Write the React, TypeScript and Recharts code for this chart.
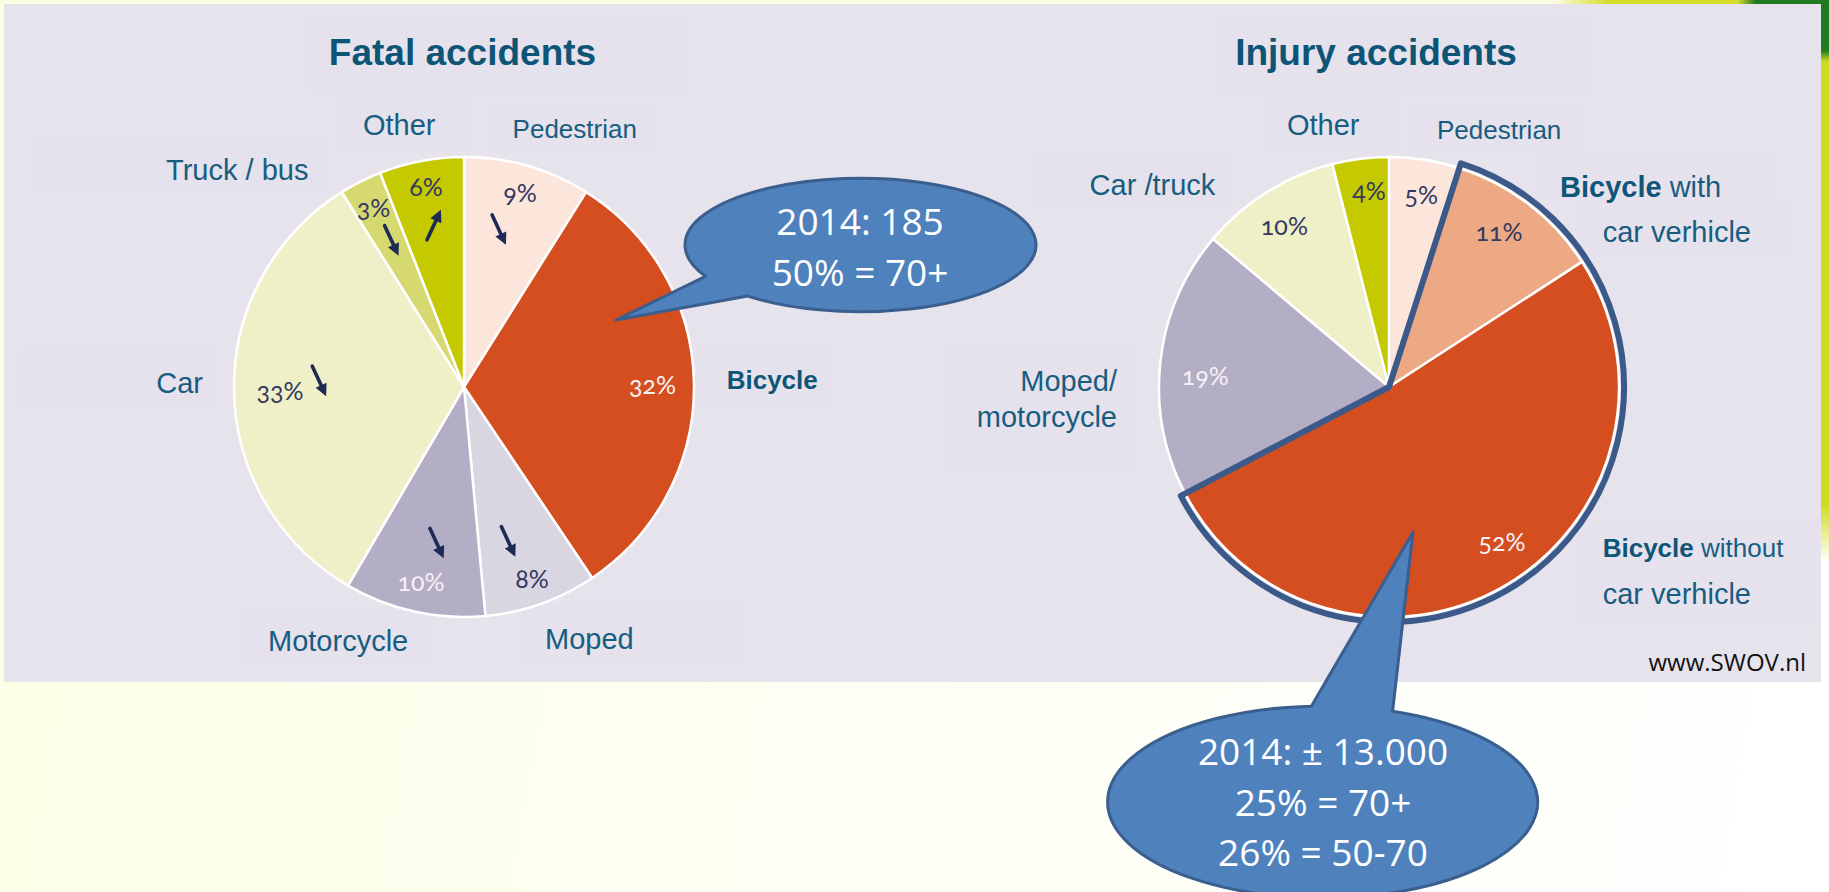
import React from 'react';
import { PieChart, Pie, Cell } from 'recharts';

// ---- data ----
const fatalCategories = ['Pedestrian', 'Bicycle', 'Moped', 'Motorcycle', 'Car', 'Truck / bus', 'Other'];
const fatalShares = [9, 32, 8, 10, 33, 3, 6];
const fatalTrend = ['down', '', 'down', 'down', 'down', 'down', 'up'];

const injuryCategories = [
  'Pedestrian',
  'Bicycle with\ncar verhicle',
  'Bicycle without\ncar verhicle',
  'Moped/\nmotorcycle',
  'Car /truck',
  'Other',
];
const injuryShares = [5, 11, 52, 19, 10, 4];
const injuryOutlined = [false, true, true, false, false, false];

const fatalCallout = ['2014: 185', '50% = 70+'];
const injuryCallout = ['2014: \u00b1 13.000', '25% = 70+', '26% = 50-70'];

// ---- styles ----
const fatalColors = ['#fce6dc', '#d54e20', '#d9d5e1', '#b4adc6', '#efefc8', '#d6d870', '#c4c900'];
const injuryColors = ['#fce6dc', '#eca984', '#d54e20', '#b4adc6', '#efefc8', '#c4c900'];
const fatalWhiteText = [false, true, false, true, false, false, false];
const injuryWhiteText = [false, false, true, true, false, false];

const LABEL = '#175d80';
const TITLE = '#0d5577';
const PCT_DARK = '#33395f';
const ARROW = '#1c2a55';
const SANS = '"Liberation Sans", Arial, sans-serif';

// percent label / arrow placement relative to slice mid angle
const fatalInner = [
  { r: 0.88, ar: 0.7, ashift: -3.5 },
  { r: 0.82, ar: 0, ashift: 0 },
  { r: 0.88, ar: 0.7, ashift: 3.6 },
  { r: 0.865, ar: 0.69, ashift: -2.6 },
  { r: 0.8, ar: 0.63, ashift: 3.2 },
  { r: 0.875, ar: 0.71, ashift: 0.4 },
  { r: 0.89, ar: 0.717, ashift: 0.2 },
];
const injuryInner = [
  { r: 0.85, shift: 0.6 },
  { r: 0.83, shift: -2.2 },
  { r: 0.83, shift: -6 },
  { r: 0.8, shift: -2.6 },
  { r: 0.84, shift: -0.7 },
  { r: 0.86, shift: 1.3 },
];

// category label placement, offsets from pie centre (baseline of each line)
const fatalOuter = [
  { anchor: 'start', lines: [{ dx: 48.6, dy: -249, size: 26 }] },
  { anchor: 'start', lines: [{ dx: 262.7, dy: 2, size: 26 }] },
  { anchor: 'start', lines: [{ dx: 81, dy: 262, size: 29 }] },
  { anchor: 'start', lines: [{ dx: -196, dy: 264, size: 29 }] },
  { anchor: 'end', lines: [{ dx: -261, dy: 6.4, size: 29 }] },
  { anchor: 'end', lines: [{ dx: -155.6, dy: -207, size: 29 }] },
  { anchor: 'start', lines: [{ dx: -101, dy: -252.5, size: 29 }] },
];
const injuryOuter = [
  { anchor: 'start', lines: [{ dx: 48, dy: -248, size: 26 }] },
  { anchor: 'start', lines: [{ dx: 171, dy: -190, size: 29 }, { dx: 213.7, dy: -145.4, size: 29 }] },
  { anchor: 'start', lines: [{ dx: 213.7, dy: 170, size: 26 }, { dx: 213.7, dy: 217, size: 29 }] },
  { anchor: 'end', lines: [{ dx: -272, dy: 4, size: 29 }, { dx: -272, dy: 40, size: 29 }] },
  { anchor: 'start', lines: [{ dx: -299.4, dy: -192.3, size: 29 }] },
  { anchor: 'start', lines: [{ dx: -102, dy: -251.6, size: 29 }] },
];

// faint text boxes behind the labels (as in the slide)
const labelBoxes = [
  [309, 18, 376, 74], [337, 94, 135, 56], [486, 104, 169, 46], [36, 136, 287, 58],
  [20, 348, 198, 60], [698, 348, 135, 56], [243, 611, 184, 52], [519, 605, 227, 60],
  [1216, 18, 376, 74], [1262, 94, 134, 57], [1412, 106, 169, 44], [1033, 152, 197, 58],
  [1535, 154, 241, 45], [1578, 199, 212, 58], [943, 348, 190, 121], [1578, 518, 241, 102],
];

const fatalData = fatalCategories.map((name, i) => ({ name, value: fatalShares[i] }));
const injuryData = injuryCategories.map((name, i) => ({ name, value: injuryShares[i] }));

// merge neighbouring slices with the same outline flag (for the bicycle outline)
const outlineData: { value: number; on: boolean }[] = [];
injuryShares.forEach((v, i) => {
  const last = outlineData[outlineData.length - 1];
  if (last && last.on === injuryOutlined[i]) last.value += v;
  else outlineData.push({ value: v, on: injuryOutlined[i] });
});

const polar = (cx: number, cy: number, r: number, thetaDeg: number) => {
  const t = (thetaDeg * Math.PI) / 180;
  return [cx + r * Math.sin(t), cy - r * Math.cos(t)];
};

const Arrow = ({ x, y, up }: { x: number; y: number; up: boolean }) => {
  const len = 33;
  const ux = 0.42;
  const uy = up ? -0.91 : 0.91;
  const sx = x - (ux * len) / 2;
  const sy = y - (uy * len) / 2;
  const ex = x + (ux * len) / 2;
  const ey = y + (uy * len) / 2;
  const hx = ex - ux * 12;
  const hy = ey - uy * 12;
  const px = -uy * 6;
  const py = ux * 6;
  return (
    <g>
      <line x1={sx} y1={sy} x2={hx + ux * 2} y2={hy + uy * 2} stroke={ARROW} strokeWidth={3.6} strokeLinecap="round" />
      <polygon points={`${ex},${ey} ${hx + px},${hy + py} ${hx - px},${hy - py}`} fill={ARROW} />
    </g>
  );
};

const CategoryText = ({ cx, cy, text, spec }: any) => {
  const lines = text.split('\n');
  return (
    <g>
      {lines.map((line: string, li: number) => {
        const pos = spec.lines[li];
        const bold = line.startsWith('Bicycle');
        const rest = bold ? line.slice('Bicycle'.length) : line;
        return (
          <text
            key={li}
            x={cx + pos.dx}
            y={cy + pos.dy}
            textAnchor={spec.anchor}
            fontFamily={SANS}
            fontSize={pos.size}
            fill={LABEL}
          >
            {bold && (
              <tspan fontWeight="bold" fill="#0f5577">
                Bicycle
              </tspan>
            )}
            {rest && <tspan>{rest.replace(/ /g, '\u00a0')}</tspan>}
          </text>
        );
      })}
    </g>
  );
};

const pctStyle = {
  fontFamily: 'Lato, "Open Sans", sans-serif',
  fontSize: 25,
  fontFeatureSettings: '"onum"',
  fontVariantNumeric: 'oldstyle-nums',
} as React.CSSProperties;

const renderFatalLabel = (props: any) => {
  const { cx, cy, midAngle, outerRadius, index } = props;
  const mid = 90 - midAngle;
  const inner = fatalInner[index];
  const [px, py] = polar(cx, cy, outerRadius * inner.r, mid);
  const trend = fatalTrend[index];
  let arrow = null;
  if (trend) {
    const [ax, ay] = polar(cx, cy, outerRadius * inner.ar, mid + inner.ashift);
    arrow = <Arrow x={ax} y={ay} up={trend === 'up'} />;
  }
  return (
    <g>
      <text
        x={px}
        y={py}
        textAnchor="middle"
        dominantBaseline="central"
        fill={fatalWhiteText[index] ? '#f6f2f6' : PCT_DARK}
        style={pctStyle}
      >
        {fatalShares[index]}%
      </text>
      {arrow}
      <CategoryText cx={cx} cy={cy} text={fatalCategories[index]} spec={fatalOuter[index]} />
    </g>
  );
};

const renderInjuryLabel = (props: any) => {
  const { cx, cy, midAngle, outerRadius, index } = props;
  const inner = injuryInner[index];
  const [px, py] = polar(cx, cy, outerRadius * inner.r, 90 - midAngle + inner.shift);
  return (
    <g>
      <text
        x={px}
        y={py}
        textAnchor="middle"
        dominantBaseline="central"
        fill={injuryWhiteText[index] ? '#f6f2f6' : PCT_DARK}
        style={pctStyle}
      >
        {injuryShares[index]}%
      </text>
      <CategoryText cx={cx} cy={cy} text={injuryCategories[index]} spec={injuryOuter[index]} />
    </g>
  );
};

// speech bubble: ellipse with a tail leaving between parametric angles a..b
const bubblePath = (cx: number, cy: number, rx: number, ry: number, a: number, b: number, tx: number, ty: number) => {
  const pt = (d: number) => [cx + rx * Math.cos((d * Math.PI) / 180), cy + ry * Math.sin((d * Math.PI) / 180)];
  const [ax, ay] = pt(a);
  const [bx, by] = pt(b);
  return `M${bx},${by} A${rx},${ry} 0 1 1 ${ax},${ay} L${tx},${ty} Z`;
};

const Bubble = ({ path, lines, x, y0, step }: any) => (
  <g>
    <path d={path} fill="#4f81bd" stroke="#3a5e8e" strokeWidth={3} strokeLinejoin="round" />
    {lines.map((l: string, i: number) => (
      <text
        key={i}
        x={x}
        y={y0 + i * step}
        textAnchor="middle"
        fontFamily='"Open Sans", sans-serif'
        fontSize={37}
        fill="#ffffff"
      >
        {l}
      </text>
    ))}
  </g>
);

const W = 1829;
const H = 892;

export default function App() {
  return (
    <div
      style={{
        position: 'absolute',
        left: 0,
        top: 0,
        width: W,
        height: H,
        overflow: 'hidden',
        background: 'linear-gradient(100deg, #fbffe4 0%, #fdfff2 45%, #ffffff 100%)',
      }}
    >
      {/* decorative strips */}
      <div style={{ position: 'absolute', left: 0, top: 0, width: W, height: 4, background: 'linear-gradient(90deg, #fbfde0 0%, #fbfde0 85%, #d4dc2c 88%, #d4dc2c 95%, #217a22 96%)' }} />
      <div style={{ position: 'absolute', left: 1821, top: 0, width: 8, height: 560, background: 'linear-gradient(180deg, #217a22 0%, #217a22 9%, #cfda22 11%, #cfda22 90%, #fefff4 100%)' }} />
      {/* panel */}
      <div style={{ position: 'absolute', left: 4, top: 4, width: 1817, height: 678, background: '#e6e3ec' }} />
      {labelBoxes.map(([x, y, w, h], i) => (
        <div key={i} style={{ position: 'absolute', left: x, top: y, width: w, height: h, background: '#e5e1ed' }} />
      ))}

      <div style={{ position: 'absolute', left: 0, top: 0 }}>
        <PieChart width={W} height={H}>
          <Pie
            data={fatalData}
            dataKey="value"
            cx={459}
            cy={382}
            outerRadius={230}
            startAngle={90}
            endAngle={-270}
            stroke="#ffffff"
            strokeWidth={2.5}
            labelLine={false}
            label={renderFatalLabel}
            isAnimationActive={false}
          >
            {fatalData.map((d, i) => (
              <Cell key={d.name} fill={fatalColors[i]} />
            ))}
          </Pie>
          <Pie
            data={injuryData}
            dataKey="value"
            cx={1384}
            cy={382}
            outerRadius={230}
            startAngle={90}
            endAngle={-270}
            stroke="#ffffff"
            strokeWidth={2.5}
            labelLine={false}
            label={renderInjuryLabel}
            isAnimationActive={false}
          >
            {injuryData.map((d, i) => (
              <Cell key={d.name} fill={injuryColors[i]} />
            ))}
          </Pie>
          <Pie
            data={outlineData}
            dataKey="value"
            cx={1384}
            cy={382}
            outerRadius={235}
            startAngle={90}
            endAngle={-270}
            label={false}
            labelLine={false}
            isAnimationActive={false}
          >
            {outlineData.map((d, i) => (
              <Cell
                key={i}
                fill="none"
                stroke={d.on ? '#3b5a8a' : 'none'}
                strokeWidth={d.on ? 6 : 0}
                strokeLinejoin="round"
              />
            ))}
          </Pie>
        </PieChart>
      </div>

      <svg width={W} height={H} style={{ position: 'absolute', left: 0, top: 0, pointerEvents: 'none' }}>
        <text x={462.5} y={65} textAnchor="middle" fontFamily={SANS} fontWeight="bold" fontSize={37} fill={TITLE}>
          Fatal accidents
        </text>
        <text x={1376} y={65} textAnchor="middle" fontFamily={SANS} fontWeight="bold" fontSize={37} fill={TITLE}>
          Injury accidents
        </text>
        <text x={1806} y={671} textAnchor="end" fontFamily='"Open Sans", sans-serif' fontSize={24} fill="#111111">
          www.SWOV.nl
        </text>
        <Bubble
          path={bubblePath(860.5, 245, 175.5, 66.7, 130, 152, 616, 320)}
          lines={fatalCallout}
          x={860}
          y0={235}
          step={51}
        />
        <Bubble
          path={bubblePath(1322.6, 802, 215, 96, 267, 289, 1413, 532)}
          lines={injuryCallout}
          x={1323}
          y0={765}
          step={50.7}
        />
      </svg>
    </div>
  );
}
